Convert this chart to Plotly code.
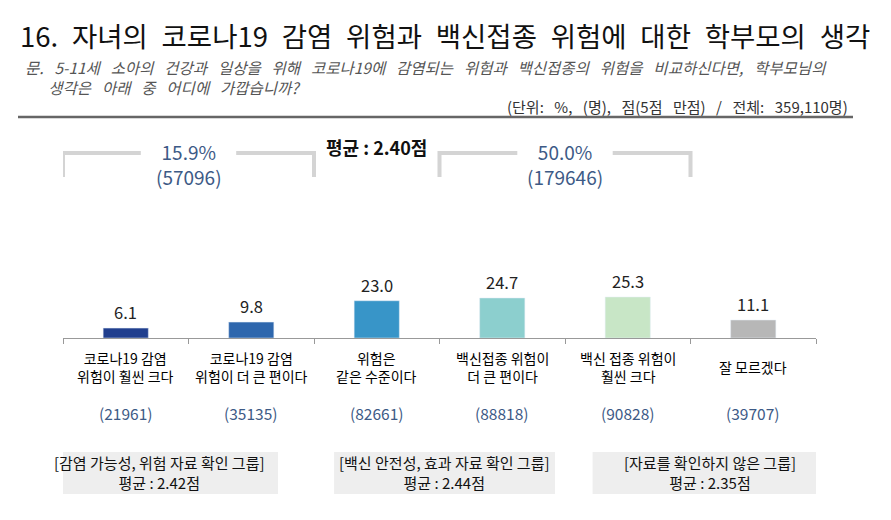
import plotly.graph_objects as go

# ---------------- data ----------------
categories = [
    "코로나19 감염<br>위험이 훨씬 크다",
    "코로나19 감염<br>위험이 더 큰 편이다",
    "위험은<br>같은 수준이다",
    "백신접종 위험이<br>더 큰 편이다",
    "백신 접종 위험이<br>훨씬 크다",
    "잘 모르겠다",
]
percent = [6.1, 9.8, 23.0, 24.7, 25.3, 11.1]
counts = [21961, 35135, 82661, 88818, 90828, 39707]

bracket_pct = [15.9, 50.0]
bracket_n = [57096, 179646]
bracket_span = [(0, 1), (3, 4)]  # category index ranges

overall_mean = 2.40
group_names = ["감염 가능성, 위험 자료 확인 그룹", "백신 안전성, 효과 자료 확인 그룹", "자료를 확인하지 않은 그룹"]
group_means = [2.42, 2.44, 2.35]

title = "16. 자녀의 코로나19 감염 위험과 백신접종 위험에 대한 학부모의 생각"
question1 = "문. 5-11세 소아의 건강과 일상을 위해 코로나19에 감염되는 위험과 백신접종의 위험을 비교하신다면, 학부모님의"
question2 = "생각은 아래 중 어디에 가깝습니까?"
unit_note = "(단위: %, (명), 점(5점 만점) / 전체: 359,110명)"

# ---------------- style ----------------
colors = ["#213f8e", "#2e67ad", "#3895c8", "#8ccfce", "#c8e6c6", "#b7b7b7"]
FONT = "Noto Sans CJK KR"
BLUE = "#3d5a86"
EN = "\u2002"
WSP = "\u2002\u2009"         # wide word space (Gulim-like)
OFF = 8                      # page body margin
W, H = 891 - OFF, 520 - OFF  # figure size
L, R, T, B = 63 - OFF, 75, 130 - OFF, 182
PW, PH = W - L - R, H - T - B
YMAX = PH / 1.62


def px_x(px):
    """window pixel -> paper x"""
    return (px - OFF - L) / PW


def px_y(py):
    """window pixel -> paper y"""
    return (H - B - (py - OFF)) / PH


def wide(s, sp=EN):
    return s.replace(" ", sp)


fig = go.Figure(go.Bar(
    x=categories, y=percent, marker_color=colors, width=0.36,
    hoverinfo="skip",
))

ann = []
shapes = []

# value labels, category labels, counts
for c, v, n in zip(categories, percent, counts):
    ann.append(dict(x=c, y=v, xref="x", yref="y", text=f"{v:.1f}", showarrow=False,
                    yanchor="middle", yshift=16, font=dict(family=FONT, size=16.5, color="#222")))
    ann.append(dict(x=c, y=px_y(367), xref="x", yref="paper", text=c, showarrow=False,
                    yanchor="middle", font=dict(family=FONT, size=14, color="#000")))
    ann.append(dict(x=c, y=px_y(413), xref="x", yref="paper", text=f"({n})", showarrow=False,
                    yanchor="middle", font=dict(family=FONT, size=15.5, color=BLUE)))

# top brackets
gap = 0.38
y_top, y_bot = px_y(153), px_y(177)
line = dict(color="#d4d4d4", width=4)
for (a, b), p, n in zip(bracket_span, bracket_pct, bracket_n):
    x0, x1 = a - 0.5, b + 0.5
    mid = (a + b) / 2
    shapes.append(dict(type="path", xref="x", yref="paper",
                       path=f"M {x0} {y_bot} L {x0} {y_top} L {mid - gap} {y_top}", line=line))
    shapes.append(dict(type="path", xref="x", yref="paper",
                       path=f"M {mid + gap} {y_top} L {x1} {y_top} L {x1} {y_bot}", line=line))
    ann.append(dict(x=mid, y=px_y(164), xref="x", yref="paper", text=f"{p:.1f}%<br>({n})",
                    showarrow=False, yanchor="middle",
                    font=dict(family=FONT, size=19, color=BLUE)))

ann.append(dict(x=2, y=px_y(147), xref="x", yref="paper", text=f"<b>평균 : {overall_mean:.2f}점</b>",
                showarrow=False, yanchor="middle", font=dict(family=FONT, size=18, color="#111")))

# bottom group boxes
boxes = [(-0.675, 1.213), (1.66, 3.42), (3.72, 5.59)]
for (x0, x1), g, m in zip(boxes, group_names, group_means):
    shapes.append(dict(type="rect", xref="x", yref="paper", x0=x0, x1=x1,
                       y0=px_y(452), y1=px_y(494), fillcolor="#eeeeee", line=dict(width=0),
                       layer="below"))
    ann.append(dict(x=(x0 + x1) / 2, y=px_y(472.5), xref="x", yref="paper",
                    text=f"[{g}]<br>평균 : {m:.2f}점", showarrow=False, yanchor="middle",
                    font=dict(family=FONT, size=15, color="#111")))

# header
ann.append(dict(x=px_x(18), y=px_y(35), xref="paper", yref="paper", text=wide(title),
                showarrow=False, xanchor="left", yanchor="middle",
                font=dict(family=FONT, size=27.5, color="#111")))
ann.append(dict(x=px_x(23), y=px_y(77.5), xref="paper", yref="paper",
                text=f"<i>{wide(question1, WSP)}<br>{EN * 3}{wide(question2, WSP)}</i>",
                showarrow=False, xanchor="left", yanchor="middle", align="left",
                font=dict(family=FONT, size=15.5, color="#555")))
ann.append(dict(x=px_x(850), y=px_y(106), xref="paper", yref="paper", text=wide(unit_note, WSP),
                showarrow=False, xanchor="right", yanchor="middle",
                font=dict(family=FONT, size=15, color="#333")))
shapes.append(dict(type="line", xref="paper", yref="paper", x0=px_x(18), x1=px_x(853),
                   y0=px_y(117), y1=px_y(117), line=dict(color="#666", width=2.5)))

fig.update_layout(
    width=W, height=H,
    margin=dict(l=L, r=R, t=T, b=B, pad=0),
    paper_bgcolor="white", plot_bgcolor="white",
    showlegend=False,
    annotations=ann, shapes=shapes,
    xaxis=dict(type="category", range=[-0.5, 5.5], autorange=False,
               showline=True, linecolor="#999", linewidth=1,
               ticks="outside", tickson="boundaries", ticklen=5, tickcolor="#999",
               showticklabels=False, showgrid=False, zeroline=False, fixedrange=True),
    yaxis=dict(range=[0, YMAX], autorange=False, visible=False, showgrid=False,
               zeroline=False, fixedrange=True),
)

fig.write_html("out.html")
